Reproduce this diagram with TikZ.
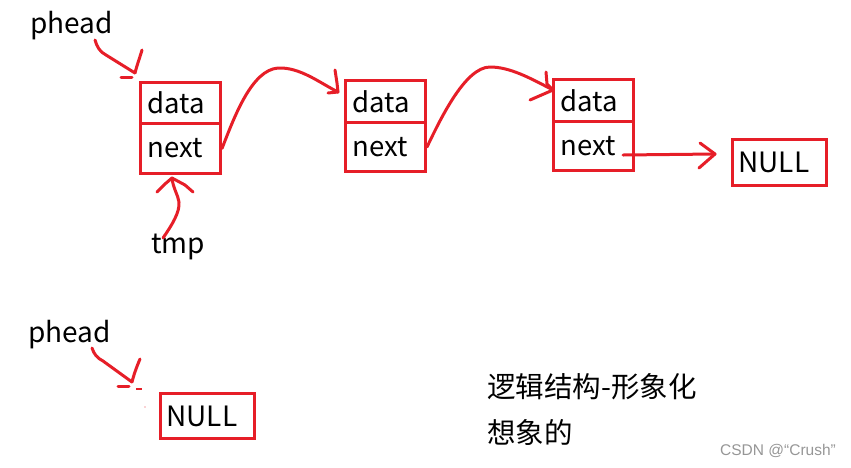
\documentclass[tikz,border=0pt]{standalone}
\usepackage{fontspec}
\setmainfont{Noto Sans CJK SC}
\newfontfamily\wmfont{Liberation Sans}
\definecolor{pred}{RGB}{230,30,40}
\definecolor{wm}{RGB}{150,150,150}
\tikzset{
  cell/.style={draw=pred, line width=3pt, minimum width=80pt, text width=66pt, inner xsep=7pt, inner ysep=0pt, align=left, anchor=north west, font=\fontsize{27.5}{30}\selectfont},
  nullbox/.style={draw=pred, line width=3pt, minimum width=94pt, minimum height=46pt, text width=82pt, inner xsep=6pt, inner ysep=0pt, align=left, anchor=north west, font=\fontsize{28}{30}\selectfont},
  lbl/.style={anchor=base west, inner sep=0pt, font=\fontsize{28}{30}\selectfont},
  pen/.style={draw=pred, line width=3pt, line cap=round, line join=round},
}
\begin{document}
\begin{tikzpicture}[x=1pt, y=-1pt]
\useasboundingbox (0,0) rectangle (851,467);
% list nodes
\node[cell, minimum height=41pt] (d1) at (139,81) {data};
\node[cell, minimum height=50pt] (n1) at (139,122) {next};
\node[cell, minimum height=42pt] (d2) at (344,79) {data};
\node[cell, minimum height=49pt] (n2) at (344,121) {next};
\node[cell, minimum height=42pt] (d3) at (552,78) {data};
\node[cell, minimum height=49pt] (n3) at (552,120) {next};
\node[nullbox] (null1) at (731,138) {NULL};
\node[nullbox, minimum height=45pt] (null2) at (159,392) {NULL};
% labels
\node[lbl] (ph1) at (30,33) {phead};
\node[lbl] (tmp) at (151,253) {tmp};
\node[lbl] (ph2) at (28,342) {phead};
\node[lbl, font=\fontsize{28.5}{30}\selectfont] (t1) at (487,397) {逻辑结构-形象化};
\node[lbl, font=\fontsize{28.5}{30}\selectfont] (t2) at (487,443) {想象的};
\node[anchor=base west, inner sep=0pt, text=wm, font=\wmfont\fontsize{15.5}{18}\selectfont] (wmk) at (720,455) {CSDN @“Crush”};
% tips
\coordinate (tip1) at (135,73);
\coordinate (tip2) at (338,92);
\coordinate (tip3) at (553,90);
\coordinate (tip4) at (715,154);
\coordinate (tipt) at (172,178);
\coordinate (tip5) at (132,382);
% phead -> first node
\draw[pen] (95,40) .. controls (97,47) and (100,52) .. (106,55) -- (tip1);
\draw[pen] (tip1) .. controls (137,65) and (140,57) .. (142,50);
\draw[pen] (121,77) -- (132,77);
% node1 -> node2
\draw[pen] (n1.east) .. controls (235,115) and (252,70) .. (278,68) .. controls (300,67) and (320,83) .. (tip2);
\draw[pen] (328,93) -- (tip2);
\draw[pen] (335,70) -- (337,83) -- (tip2);
% node2 -> node3
\draw[pen] (n2.east) .. controls (440,120) and (465,67) .. (490,67) .. controls (510,67) and (530,78) .. (tip3);
\draw[pen] (530,100) -- (tip3);
\draw[pen] (546,72) -- (547,84) -- (tip3);
% node3 -> NULL
\draw[pen] (623,155) -- (tip4);
\draw[pen] (700,143) -- (tip4);
\draw[pen] (699,168) -- (tip4);
% tmp arrow
\draw[pen] (163,238) .. controls (172,225) and (180,212) .. (179,202) .. controls (178,195) and (173,188) .. (tipt);
\draw[pen] (157,192) -- (165,184) -- (tipt);
\draw[pen] (tipt) -- (185,185) -- (193,192);
% bottom phead
\draw[pen] (92,348) .. controls (94,354) and (97,358) .. (103,361) -- (tip5);
\draw[pen] (tip5) .. controls (134,374) and (137,366) .. (140,359);
\draw[pen] (118,386) -- (129,386);
\draw[draw=pred, line width=2pt] (136,389) -- (142,389);
\fill[pred!40] (145,407) circle (0.8pt);
\end{tikzpicture}
\end{document}
